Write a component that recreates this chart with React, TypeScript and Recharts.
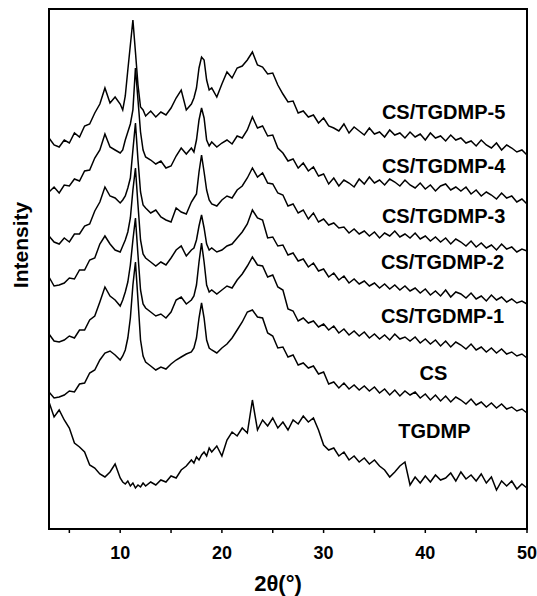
import React from "react";
import {
  LineChart,
  Line,
  XAxis,
  YAxis,
  ReferenceArea,
  ReferenceDot,
} from "recharts";

// 2θ positions (denser around the sharp peaks)
const twoTheta = [
  3, 3.5, 4, 4.5, 5, 5.5, 6, 6.5, 7, 7.5,
  8, 8.5, 9, 9.5, 10, 10.25, 10.5, 10.75, 11, 11.25,
  11.5, 11.75, 12, 12.25, 12.5, 13, 13.5, 14, 14.5, 15,
  15.5, 16, 16.5, 17, 17.25, 17.5, 17.75, 18, 18.25, 18.5,
  18.75, 19, 19.5, 20, 20.5, 21, 21.5, 22, 22.5, 23,
  23.5, 24, 24.5, 25, 25.5, 26, 26.5, 27, 27.5, 28,
  28.5, 29, 29.5, 30, 30.5, 31, 31.5, 32, 32.5, 33,
  33.5, 34, 34.5, 35, 35.5, 36, 36.5, 37, 37.5, 38,
  38.5, 39, 39.5, 40, 40.5, 41, 41.5, 42, 42.5, 43,
  43.5, 44, 44.5, 45, 45.5, 46, 46.5, 47, 47.5, 48,
  48.5, 49, 49.5, 50,
];

// intensities, already stacked with their offsets
const cs5 = [
  391, 384, 382, 389, 386, 396, 392, 403, 405, 416,
  425, 441, 426, 432, 425, 419, 433, 459, 484, 509,
  477, 444, 422, 419, 413, 418, 412, 417, 414, 421,
  431, 439, 419, 425, 431, 441, 461, 472, 469, 449,
  439, 441, 432, 445, 457, 451, 461, 463, 469, 477,
  464, 462, 455, 456, 444, 435, 427, 428, 416, 418,
  412, 414, 406, 411, 403, 401, 398, 405, 396, 402,
  398, 394, 401, 395, 397, 392, 399, 394, 396, 391,
  397, 392, 395, 389, 396, 391, 393, 388, 394, 389,
  391, 386, 388, 383, 389, 384, 381, 386, 379, 384,
  381, 377, 379, 374,
];

const cs4 = [
  337, 342, 336, 344, 343, 350, 348, 358, 359, 371,
  379, 395, 382, 379, 376, 379, 389, 397, 405, 419,
  461, 429, 397, 379, 372, 369, 365, 368, 361, 363,
  373, 381, 375, 381, 377, 389, 409, 421, 411, 389,
  383, 387, 382, 386, 389, 385, 393, 391, 399, 412,
  401, 403, 393, 394, 381, 376, 368, 370, 361, 366,
  358, 362, 353, 355, 345, 351, 343, 349, 346, 342,
  350, 345, 352, 346, 349, 344, 350, 347, 343, 349,
  344, 341, 346, 340, 344, 338, 343, 345, 339, 342,
  338, 342, 335, 339, 333, 337, 334, 330, 336, 331,
  333, 327, 330, 325,
];

const cs3 = [
  293, 287, 285, 291, 287, 295, 295, 303, 305, 318,
  327, 342, 333, 331, 326, 329, 333, 341, 351, 379,
  406, 369, 337, 324, 321, 316, 319, 312, 309, 307,
  321, 317, 315, 327, 331, 335, 357, 374, 357, 339,
  329, 325, 323, 329, 333, 331, 339, 343, 351, 361,
  352, 356, 346, 345, 336, 334, 323, 325, 316, 319,
  310, 316, 307, 310, 304, 306, 301, 302, 296, 300,
  295, 298, 293, 297, 291, 296, 293, 298, 292, 295,
  291, 296, 290, 293, 288, 292, 287, 291, 285, 290,
  287, 283, 288, 282, 286, 281, 284, 279, 285, 280,
  282, 277, 280, 278,
];

const cs2 = [
  252, 243, 244, 246, 251, 250, 259, 259, 269, 271,
  285, 293, 285, 279, 277, 283, 289, 297, 311, 339,
  361, 324, 289, 275, 271, 267, 263, 267, 264, 271,
  279, 283, 273, 279, 281, 289, 303, 314, 301, 285,
  279, 281, 277, 279, 283, 285, 291, 297, 305, 319,
  311, 309, 291, 292, 283, 284, 274, 276, 268, 270,
  262, 266, 258, 260, 252, 256, 249, 253, 246, 250,
  245, 248, 243, 246, 241, 245, 240, 244, 239, 243,
  238, 241, 236, 240, 234, 238, 233, 239, 232, 237,
  235, 231, 236, 230, 233, 228, 234, 229, 232, 227,
  230, 226, 228, 225,
];

const cs1 = [
  195, 188, 187, 189, 193, 191, 199, 199, 209, 213,
  227, 242, 233, 229, 223, 229, 237, 247, 264, 289,
  311, 274, 239, 225, 221, 217, 213, 215, 211, 217,
  229, 232, 225, 229, 233, 244, 267, 286, 267, 244,
  237, 239, 235, 239, 243, 241, 249, 255, 263, 272,
  264, 263, 252, 254, 242, 239, 220, 218, 208, 211,
  206, 208, 202, 205, 199, 203, 196, 200, 194, 198,
  193, 197, 191, 195, 190, 194, 189, 195, 190, 192,
  188, 192, 186, 190, 185, 189, 183, 188, 182, 187,
  184, 180, 185, 179, 182, 177, 181, 176, 180, 175,
  177, 173, 175, 171,
];

const cs = [
  137, 131, 132, 134, 138, 137, 145, 146, 156, 159,
  169, 176, 178, 174, 169, 173, 179, 191, 211, 244,
  267, 229, 189, 173, 167, 163, 159, 162, 160, 165,
  169, 172, 175, 177, 181, 191, 211, 226, 211, 189,
  181, 179, 176, 181, 185, 191, 199, 207, 217, 219,
  212, 211, 196, 193, 181, 182, 172, 174, 164, 166,
  161, 163, 155, 157, 145, 147, 141, 146, 140, 144,
  139, 143, 138, 142, 136, 140, 134, 139, 133, 138,
  134, 137, 131, 135, 129, 134, 128, 133, 127, 132,
  129, 125, 130, 124, 127, 122, 126, 121, 125, 120,
  122, 118, 120, 116,
];

const tgdmp = [
  127, 112, 119, 109, 101, 86, 82, 77, 64, 61,
  55, 52, 57, 65, 51, 47, 45, 48, 43, 46,
  41, 44, 42, 46, 43, 47, 44, 49, 47, 53,
  51, 59, 63, 69, 66, 72, 69, 74, 77, 73,
  81, 77, 83, 73, 89, 97, 93, 101, 96, 129,
  99, 109, 103, 111, 101, 107, 99, 109, 105, 113,
  107, 111, 99, 84, 79, 81, 73, 77, 69, 73,
  67, 71, 65, 69, 63, 59, 52, 57, 63, 67,
  44, 52, 46, 53, 47, 54, 49, 51, 56, 48,
  57, 50, 54, 48, 55, 46, 52, 39, 48, 43,
  48, 40, 45, 41,
];

const seriesKeys = ["cs5", "cs4", "cs3", "cs2", "cs1", "cs", "tgdmp"];
const seriesNames = [
  "CS/TGDMP-5",
  "CS/TGDMP-4",
  "CS/TGDMP-3",
  "CS/TGDMP-2",
  "CS/TGDMP-1",
  "CS",
  "TGDMP",
];
const xTicks = [5, 10, 15, 20, 25, 30, 35, 40, 45, 50];

// where the sample names sit, in data units
const nameX = [41.8, 41.8, 41.8, 41.7, 41.7, 40.8, 40.9];
const nameY = [417, 363, 313, 267, 213, 156, 98];

const allSeries = [cs5, cs4, cs3, cs2, cs1, cs, tgdmp];
const data = twoTheta.map((x, i) => {
  const row: Record<string, number> = { x };
  seriesKeys.forEach((k, j) => {
    row[k] = allSeries[j][i];
  });
  return row;
});

const FONT = "'Liberation Sans', Arial, Helvetica, sans-serif";

const YTitle = () => (
  <text
    x={20}
    y={245}
    transform="rotate(-90, 20, 245)"
    textAnchor="middle"
    dominantBaseline="central"
    fontSize={21}
    fontWeight="bold"
    fontFamily={FONT}
    fill="#000"
  >
    Intensity
  </text>
);

const XTitle = () => (
  <text
    x={278}
    y={583}
    textAnchor="middle"
    dominantBaseline="central"
    fontSize={22}
    fontWeight="bold"
    fontFamily={FONT}
    fill="#000"
  >
    2θ(°)
  </text>
);

export default function App() {
  return (
    <div
      style={{
        position: "absolute",
        left: 0,
        top: 0,
        width: 537,
        height: 596,
        background: "#fff",
        fontFamily: FONT,
      }}
    >
      <LineChart
        width={537}
        height={596}
        data={data}
        margin={{ top: 9, right: 10, bottom: 27, left: 0 }}
      >
        <XAxis
          dataKey="x"
          type="number"
          domain={[3, 50]}
          ticks={xTicks}
          tickFormatter={(v: number) => (v % 10 === 0 ? String(v) : "")}
          axisLine={false}
          tickLine={{ stroke: "#000", strokeWidth: 1.5 }}
          tickSize={4}
          tickMargin={13}
          height={40}
          tick={{ fill: "#000", fontSize: 18, fontWeight: "bold" }}
          label={<XTitle />}
        />
        <YAxis
          type="number"
          domain={[0, 520]}
          width={49}
          tick={false}
          tickLine={false}
          axisLine={false}
          label={<YTitle />}
        />
        <ReferenceArea
          x1={3}
          x2={50}
          y1={0}
          y2={520}
          fill="none"
          stroke="#000"
          strokeWidth={2}
        />
        {seriesKeys.map((k) => (
          <Line
            key={k}
            dataKey={k}
            type="linear"
            stroke="#000"
            strokeWidth={1.5}
            dot={false}
            isAnimationActive={false}
          />
        ))}
        {seriesNames.map((name, i) => (
          <ReferenceDot
            key={name}
            x={nameX[i]}
            y={nameY[i]}
            r={0}
            fill="none"
            stroke="none"
            label={{
              value: name,
              position: "center",
              fill: "#000",
              fontSize: 20,
              fontWeight: "bold",
            }}
          />
        ))}
      </LineChart>
    </div>
  );
}
